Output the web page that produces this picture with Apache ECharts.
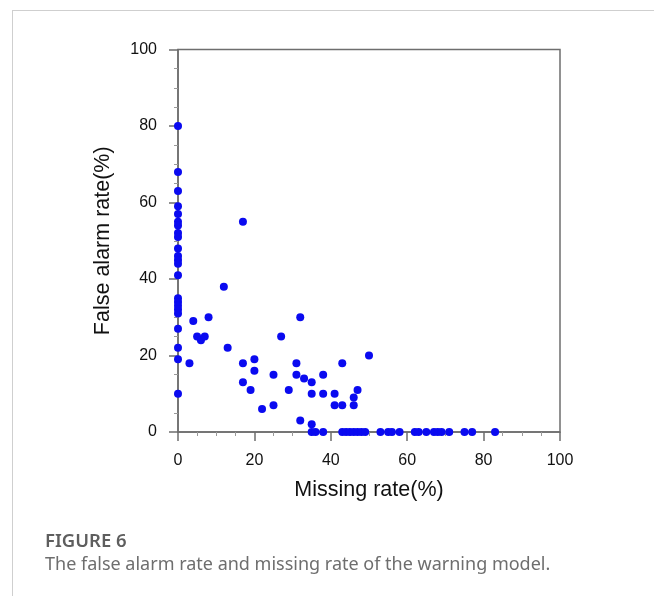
<!DOCTYPE html>
<html>
<head>
<meta charset="utf-8">
<script src="https://cdn.jsdelivr.net/npm/echarts@6/dist/echarts.min.js"></script>
<style>
  html, body { margin: 0; padding: 0; background: #fff; }
  .frame {
    position: absolute; left: 12px; top: 10px;
    width: 800px; height: 800px;
    border: 1px solid #cfcfcf;
  }
  #chart { position: absolute; left: 0; top: 0; width: 654px; height: 596px; }
  .fig-no {
    position: absolute; left: 45px; top: 527px;
    font-family: "Noto Sans", sans-serif; font-size: 18.5px; font-weight: 600; color: #5e5e5e;
  }
  .fig-cap {
    position: absolute; left: 45px; top: 551px;
    font-family: "Noto Sans", sans-serif; font-size: 18px; color: #6e6e6e;
  }
</style>
</head>
<body>
<div class="frame"></div>
<div id="chart"></div>
<div class="fig-no">FIGURE 6</div>
<div class="fig-cap">The false alarm rate and missing rate of the warning model.</div>
<script>
// 漏报率 (x) / 误报率 (y)，单位 %
var missingRate = [
  0, 0, 0, 0, 0, 0, 0, 0, 0, 0, 0, 0, 0, 0, 0, 0, 0, 0, 0, 0, 0, 0, 0,
  17, 12, 4, 8, 5, 6, 7, 13, 3, 17, 20, 20, 17, 19, 22, 25, 25, 27, 29,
  31, 32, 31, 33, 35, 35, 32, 35, 38, 38, 41, 41, 43, 43, 46, 46, 47, 50,
  35, 36, 38, 43, 44, 45, 46, 47, 48, 49, 53, 55, 56, 58, 62, 63, 65, 67,
  68, 69, 71, 75, 77, 83
]
var falseAlarmRate = [
  80, 68, 63, 59, 57, 55, 54, 52, 51, 48, 46, 45, 44, 41, 35, 34, 33, 32, 31, 27, 22, 19, 10,
  55, 38, 29, 30, 25, 24, 25, 22, 18, 18, 19, 16, 13, 11, 6, 7, 15, 25, 11,
  18, 30, 15, 14, 13, 10, 3, 2, 15, 10, 10, 7, 18, 7, 7, 9, 11, 20,
  0, 0, 0, 0, 0, 0, 0, 0, 0, 0, 0, 0, 0, 0, 0, 0, 0, 0,
  0, 0, 0, 0, 0, 0
]

var points = missingRate.map(function (x, i) { return [x, falseAlarmRate[i]] })

var axisColor = '#6e6e6e'
var labelStyle = { fontFamily: 'Liberation Sans', fontSize: 16, color: '#111', margin: 21 }
var nameStyle = { fontFamily: 'Liberation Sans', fontSize: 21.5, color: '#111' }

var myChart = echarts.init(document.getElementById('chart'))
myChart.setOption({
  animation: false,
  grid: {
    left: 178, right: 94, top: 49.5, bottom: 164,
    show: true, borderColor: axisColor, borderWidth: 1.5
  },
  xAxis: {
    type: 'value', min: 0, max: 100, interval: 20,
    name: 'Missing rate(%)', nameLocation: 'middle', nameGap: 47,
    nameTextStyle: nameStyle,
    axisLine: { show: true, lineStyle: { color: axisColor, width: 1.5 } },
    axisTick: { show: true, length: 9, lineStyle: { color: axisColor, width: 1.5 } },
    minorTick: { show: true, splitNumber: 4, length: 4, lineStyle: { color: '#999', width: 1 } },
    axisLabel: labelStyle,
    splitLine: { show: false }
  },
  yAxis: {
    type: 'value', min: 0, max: 100, interval: 20,
    name: 'False alarm rate(%)', nameLocation: 'middle', nameGap: 64,
    nameTextStyle: nameStyle,
    axisLine: { show: true, lineStyle: { color: axisColor, width: 1.5 } },
    axisTick: { show: true, length: 9, lineStyle: { color: axisColor, width: 1.5 } },
    minorTick: { show: true, splitNumber: 4, length: 4, lineStyle: { color: '#999', width: 1 } },
    axisLabel: labelStyle,
    splitLine: { show: false }
  },
  series: [{
    type: 'scatter',
    data: points,
    symbolSize: 8,
    itemStyle: { color: '#0a0af0', opacity: 1 }
  }]
})
</script>
</body>
</html>
